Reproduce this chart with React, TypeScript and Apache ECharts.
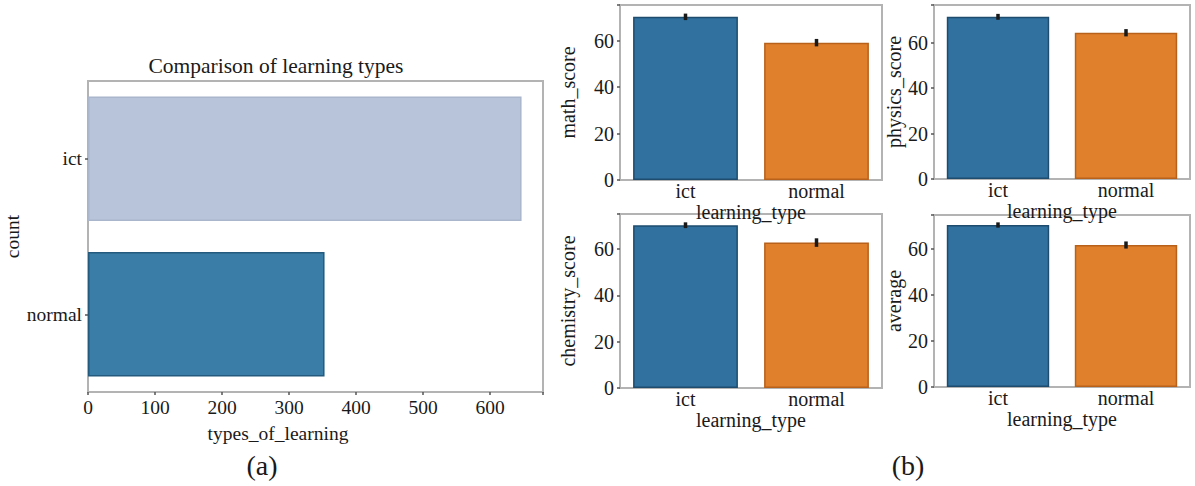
import React, { useEffect, useRef } from "react";
import * as echarts from "echarts";

const learningTypes = ["ict", "normal"];
const countValues = [647, 353];
const countTicks = [0, 100, 200, 300, 400, 500, 600];

const scoreNames = ["math_score", "physics_score", "chemistry_score", "average"];
const scoreMeans = [
  [70.2, 59.1],
  [71.3, 64.3],
  [70.3, 62.9],
  [70.4, 61.7],
];
const scoreLow = [
  [68.8, 57.5],
  [70.0, 62.7],
  [69.1, 61.0],
  [69.3, 60.2],
];
const scoreHigh = [
  [71.6, 60.7],
  [72.6, 65.9],
  [71.6, 64.7],
  [71.6, 63.3],
];
const scoreAxisMax = [75.3, 76.5, 75.2, 74.8];

const FONT = "Liberation Serif";
const TXT = "#1a1a1a";

export default function App() {
  const ref = useRef<HTMLDivElement>(null);
  useEffect(() => {
    document.body.style.margin = "0";
    const chart = echarts.init(ref.current!, undefined, { renderer: "svg" });

    const frame = { show: true, borderColor: "#b3b3b3", borderWidth: 2, backgroundColor: "#fff" };
    const grids: any[] = [
      { left: 88, top: 81, width: 455, height: 311, ...frame },
      { left: 620, top: 5, width: 262, height: 175, ...frame },
      { left: 934, top: 5, width: 256, height: 174, ...frame },
      { left: 620, top: 214, width: 262, height: 174, ...frame },
      { left: 934, top: 215, width: 256, height: 172, ...frame },
    ];

    const tickStyle = { show: true, length: 3, lineStyle: { color: "#555", width: 1.5 } };
    const xAxes: any[] = [
      {
        gridIndex: 0,
        type: "value",
        min: 0,
        max: 679,
        interval: 100,
        splitLine: { show: false },
        axisLine: { show: false },
        axisTick: tickStyle,
        axisLabel: {
          fontFamily: FONT,
          fontSize: 19.5,
          color: TXT,
          margin: 5,
          formatter: (v: number) => (countTicks.includes(v) ? String(v) : ""),
        },
      },
    ];
    const yAxes: any[] = [
      {
        gridIndex: 0,
        type: "category",
        data: learningTypes,
        inverse: true,
        axisLine: { show: false },
        axisTick: { ...tickStyle, alignWithLabel: true },
        axisLabel: { fontFamily: FONT, fontSize: 19.5, color: TXT, margin: 6 },
        name: "count",
        nameLocation: "middle",
        nameGap: 54,
        nameRotate: 90,
        nameTextStyle: { fontFamily: FONT, fontSize: 19.5, color: TXT },
      },
    ];
    const yNameGaps = [42, 27, 42, 27];
    const xNameGaps = [12, 12, 20, 20];
    for (let i = 0; i < 4; i++) {
      xAxes.push({
        gridIndex: i + 1,
        type: "category",
        data: learningTypes,
        axisLine: { show: false },
        axisTick: { show: false },
        axisLabel: { fontFamily: FONT, fontSize: 20, color: TXT, margin: 1 },
        name: "learning_type",
        nameLocation: "middle",
        nameGap: xNameGaps[i],
        nameTextStyle: { fontFamily: FONT, fontSize: 20, color: TXT },
      });
      yAxes.push({
        gridIndex: i + 1,
        type: "value",
        min: 0,
        max: scoreAxisMax[i],
        interval: 20,
        splitLine: { show: false },
        axisLine: { show: false },
        axisTick: tickStyle,
        axisLabel: {
          fontFamily: FONT,
          fontSize: 20,
          color: TXT,
          margin: 6,
          formatter: (v: number) => (v % 20 === 0 ? String(v) : ""),
        },
        name: scoreNames[i],
        nameLocation: "middle",
        nameGap: yNameGaps[i],
        nameRotate: 90,
        nameTextStyle: { fontFamily: FONT, fontSize: 20, color: TXT },
      });
    }

    const series: any[] = [
      {
        type: "bar",
        xAxisIndex: 0,
        yAxisIndex: 0,
        barCategoryGap: "20%",
        data: countValues.map((v, i) => ({
          value: v,
          itemStyle:
            i === 0
              ? { color: "#b8c4d9", borderColor: "#a9b6cc", borderWidth: 1.5 }
              : { color: "#3a7ea8", borderColor: "#235a7d", borderWidth: 1.5 },
        })),
      },
    ];
    for (let i = 0; i < 4; i++) {
      series.push({
        type: "bar",
        xAxisIndex: i + 1,
        yAxisIndex: i + 1,
        barCategoryGap: "20%",
        data: scoreMeans[i].map((v, j) => ({
          value: v,
          itemStyle:
            j === 0
              ? { color: "#3071a0", borderColor: "#1d4c6e", borderWidth: 1.5 }
              : { color: "#e1802c", borderColor: "#b8611a", borderWidth: 1.5 },
        })),
      });
      series.push({
        type: "custom",
        xAxisIndex: i + 1,
        yAxisIndex: i + 1,
        data: learningTypes.map((c, j) => [j, scoreLow[i][j], scoreHigh[i][j]]),
        renderItem: (params: any, api: any) => {
          const p1 = api.coord([api.value(0), api.value(1)]);
          const p2 = api.coord([api.value(0), api.value(2)]);
          return {
            type: "line",
            shape: { x1: p1[0], y1: p1[1], x2: p2[0], y2: p2[1] },
            style: { stroke: "#1a1a1a", lineWidth: 3.5 },
          };
        },
        z: 5,
      });
    }

    chart.setOption({
      animation: false,
      backgroundColor: "#fff",
      grid: grids,
      xAxis: xAxes,
      yAxis: yAxes,
      series,
      graphic: [
        {
          type: "text",
          x: 276,
          y: 66,
          style: {
            text: "Comparison of learning types",
            font: `21.5px "${FONT}"`,
            fill: TXT,
            textAlign: "center",
            textVerticalAlign: "middle",
          },
        },
        {
          type: "text",
          x: 278,
          y: 433,
          style: {
            text: "types_of_learning",
            font: `19.5px "${FONT}"`,
            fill: TXT,
            textAlign: "center",
            textVerticalAlign: "middle",
          },
        },
        {
          type: "text",
          x: 262,
          y: 465,
          style: { text: "(a)", font: `28px "${FONT}"`, fill: TXT, textAlign: "center", textVerticalAlign: "middle" },
        },
        {
          type: "text",
          x: 908,
          y: 465,
          style: { text: "(b)", font: `28px "${FONT}"`, fill: TXT, textAlign: "center", textVerticalAlign: "middle" },
        },
      ],
    });
    return () => chart.dispose();
  }, []);
  return <div ref={ref} style={{ width: 1195, height: 486 }} />;
}
